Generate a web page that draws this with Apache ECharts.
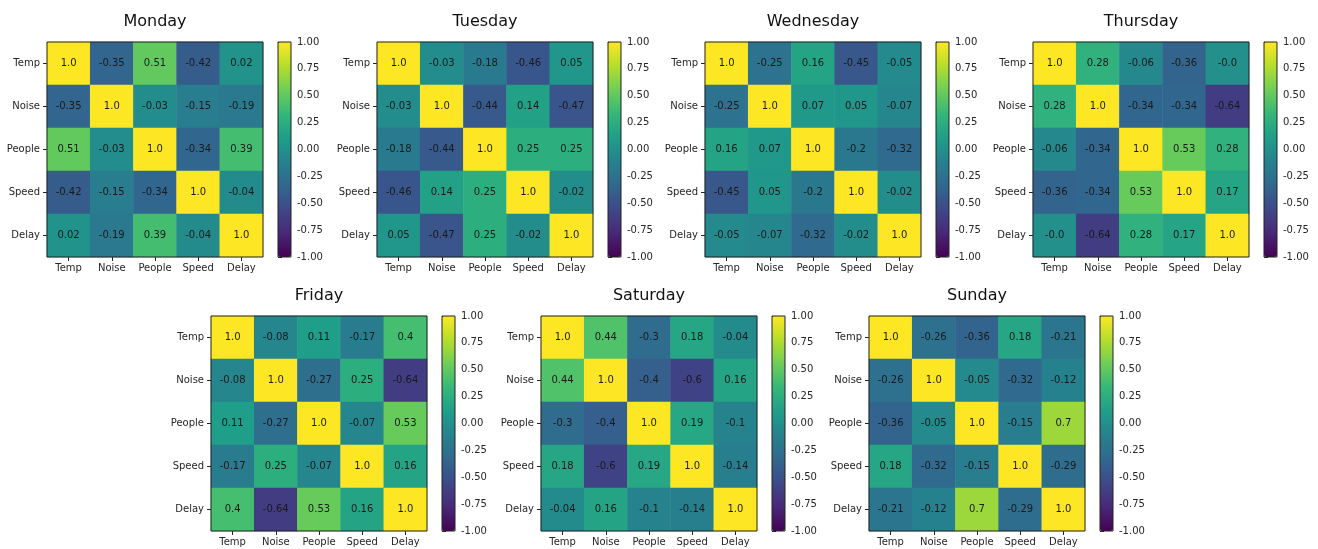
<!DOCTYPE html>
<html>
<head>
<meta charset="utf-8">
<title>Weekly correlation matrices</title>
<script src="https://cdn.jsdelivr.net/npm/echarts@6/dist/echarts.min.js"></script>
<style>
  html, body { margin: 0; padding: 0; background: #ffffff; }
  #chart { width: 1318px; height: 549px; }
</style>
</head>
<body>
<div id="chart"></div>
<script>
// Variables shown on both axes of every matrix
const variables = ['Temp', 'Noise', 'People', 'Speed', 'Delay'];

// Colour-bar tick labels
const colorbarTicks = ['-1.00', '-0.75', '-0.50', '-0.25', '0.00', '0.25', '0.50', '0.75', '1.00'];

// Correlation matrices, one per day (rows follow `variables`)
const monday = [
  [1.0, -0.35, 0.51, -0.42, 0.02],
  [-0.35, 1.0, -0.03, -0.15, -0.19],
  [0.51, -0.03, 1.0, -0.34, 0.39],
  [-0.42, -0.15, -0.34, 1.0, -0.04],
  [0.02, -0.19, 0.39, -0.04, 1.0]
];
const tuesday = [
  [1.0, -0.03, -0.18, -0.46, 0.05],
  [-0.03, 1.0, -0.44, 0.14, -0.47],
  [-0.18, -0.44, 1.0, 0.25, 0.25],
  [-0.46, 0.14, 0.25, 1.0, -0.02],
  [0.05, -0.47, 0.25, -0.02, 1.0]
];
const wednesday = [
  [1.0, -0.25, 0.16, -0.45, -0.05],
  [-0.25, 1.0, 0.07, 0.05, -0.07],
  [0.16, 0.07, 1.0, -0.2, -0.32],
  [-0.45, 0.05, -0.2, 1.0, -0.02],
  [-0.05, -0.07, -0.32, -0.02, 1.0]
];
const thursday = [
  [1.0, 0.28, -0.06, -0.36, -0.0],
  [0.28, 1.0, -0.34, -0.34, -0.64],
  [-0.06, -0.34, 1.0, 0.53, 0.28],
  [-0.36, -0.34, 0.53, 1.0, 0.17],
  [-0.0, -0.64, 0.28, 0.17, 1.0]
];
const friday = [
  [1.0, -0.08, 0.11, -0.17, 0.4],
  [-0.08, 1.0, -0.27, 0.25, -0.64],
  [0.11, -0.27, 1.0, -0.07, 0.53],
  [-0.17, 0.25, -0.07, 1.0, 0.16],
  [0.4, -0.64, 0.53, 0.16, 1.0]
];
const saturday = [
  [1.0, 0.44, -0.3, 0.18, -0.04],
  [0.44, 1.0, -0.4, -0.6, 0.16],
  [-0.3, -0.4, 1.0, 0.19, -0.1],
  [0.18, -0.6, 0.19, 1.0, -0.14],
  [-0.04, 0.16, -0.1, -0.14, 1.0]
];
const sunday = [
  [1.0, -0.26, -0.36, 0.18, -0.21],
  [-0.26, 1.0, -0.05, -0.32, -0.12],
  [-0.36, -0.05, 1.0, -0.15, 0.7],
  [0.18, -0.32, -0.15, 1.0, -0.29],
  [-0.21, -0.12, 0.7, -0.29, 1.0]
];

const dayNames = ['Monday', 'Tuesday', 'Wednesday', 'Thursday', 'Friday', 'Saturday', 'Sunday'];
const matrices = [monday, tuesday, wednesday, thursday, friday, saturday, sunday];

// Panel placement: left/top of each matrix plot area
const panels = [
  { left: 47, top: 42 },
  { left: 377, top: 42 },
  { left: 705, top: 42 },
  { left: 1033, top: 42 },
  { left: 211, top: 316 },
  { left: 541, top: 316 },
  { left: 869, top: 316 }
];
const plotW = 216, plotH = 215;
const barOffset = 231, barW = 13;

const viridis = ['#440154', '#482878', '#3e4989', '#31688e', '#26828e',
                 '#1f9e89', '#35b779', '#6ece58', '#b5de2b', '#fde725'];

const FONT = '"DejaVu Sans", sans-serif';
const TXT = '#262626';

// Python-like float formatting: 1 -> "1.0", -0 -> "-0.0"
function fmt(v) {
  if (Object.is(v, -0)) return '-0.0';
  return Number.isInteger(v) ? v.toFixed(1) : String(v);
}

const titles = [], grids = [], xAxes = [], yAxes = [], series = [], visualMaps = [];

matrices.forEach((m, i) => {
  const p = panels[i];
  const cells = [];
  m.forEach((row, r) => row.forEach((v, c) => cells.push([c, r, v])));

  titles.push({
    text: dayNames[i],
    left: p.left + plotW / 2,
    top: p.top - 28,
    textAlign: 'center',
    padding: 0,
    textStyle: { fontFamily: FONT, fontSize: 16, fontWeight: 'normal', color: '#111' }
  });

  // matrix grid
  const gi = grids.length;
  grids.push({
    left: p.left, top: p.top, width: plotW, height: plotH,
    show: true, z: 10, backgroundColor: 'transparent',
    borderColor: '#222', borderWidth: 1
  });
  xAxes.push({
    type: 'category', gridIndex: gi, data: variables,
    axisLine: { show: false },
    axisTick: { show: true, alignWithLabel: true, length: 4, lineStyle: { color: '#222' } },
    axisLabel: { fontFamily: FONT, fontSize: 10, color: TXT, margin: 6, interval: 0 },
    splitLine: { show: false }
  });
  yAxes.push({
    type: 'category', gridIndex: gi, data: variables, inverse: true,
    axisLine: { show: false },
    axisTick: { show: true, alignWithLabel: true, length: 4, lineStyle: { color: '#222' } },
    axisLabel: { fontFamily: FONT, fontSize: 10, color: TXT, margin: 7, interval: 0 },
    splitLine: { show: false }
  });
  series.push({
    type: 'heatmap', name: dayNames[i],
    xAxisIndex: xAxes.length - 1, yAxisIndex: yAxes.length - 1,
    data: cells,
    label: {
      show: true, fontFamily: FONT, fontSize: 10, color: '#1a1a1a',
      formatter: prm => fmt(prm.data[2])
    },
    itemStyle: { borderWidth: 0 },
    emphasis: { disabled: true }
  });

  // colour bar
  const bx = p.left + barOffset;
  visualMaps.push({
    type: 'continuous', seriesIndex: i, min: -1, max: 1,
    calculable: false, hoverLink: false, realtime: false,
    inRange: { color: viridis },
    show: true, orient: 'vertical',
    left: bx, top: p.top, itemWidth: barW, itemHeight: plotH,
    padding: 0, text: null, showLabel: false,
    textStyle: { color: 'transparent' }
  });
  const ci = grids.length;
  grids.push({
    left: bx, top: p.top, width: barW, height: plotH,
    show: true, z: 10, backgroundColor: 'transparent',
    borderColor: '#222', borderWidth: 1
  });
  xAxes.push({ type: 'value', gridIndex: ci, show: false, min: 0, max: 1 });
  yAxes.push({
    type: 'value', gridIndex: ci, position: 'right', min: -1, max: 1, interval: 0.25,
    axisLine: { show: false },
    axisTick: { show: true, length: 4, lineStyle: { color: '#222' } },
    axisLabel: {
      fontFamily: FONT, fontSize: 10, color: TXT, margin: 6,
      formatter: v => colorbarTicks[Math.round((v + 1) / 0.25)]
    },
    splitLine: { show: false }
  });
});

const chart = echarts.init(document.getElementById('chart'), null, { renderer: 'canvas' });
chart.setOption({
  backgroundColor: '#ffffff',
  animation: false,
  title: titles,
  grid: grids,
  xAxis: xAxes,
  yAxis: yAxes,
  visualMap: visualMaps,
  series: series
});
</script>
</body>
</html>
